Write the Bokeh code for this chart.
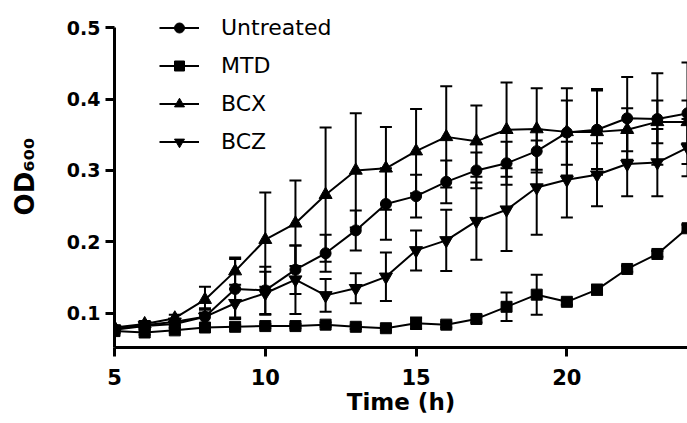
from bokeh.plotting import figure
from bokeh.models import (Range1d, FixedTicker, Whisker, TeeHead, ColumnDataSource,
                          Legend, LegendItem)
from bokeh.embed import file_html
from bokeh.resources import INLINE

# ---- data ----
time_h = [5, 6, 7, 8, 9, 10, 11, 12, 13, 14, 15, 16, 17, 18, 19, 20, 21, 22, 23, 24]

untreated = [0.077, 0.082, 0.085, 0.095, 0.134, 0.132, 0.161, 0.184, 0.216, 0.253,
             0.264, 0.284, 0.300, 0.310, 0.327, 0.353, 0.357, 0.373, 0.372, 0.380]
untreated_err = [0.004, 0.004, 0.005, 0.012, 0.042, 0.033, 0.034, 0.026, 0.028, 0.050,
                 0.030, 0.030, 0.025, 0.030, 0.030, 0.045, 0.055, 0.058, 0.064, 0.071]

mtd = [0.075, 0.073, 0.076, 0.080, 0.081, 0.082, 0.082, 0.084, 0.081, 0.079,
       0.086, 0.084, 0.092, 0.109, 0.126, 0.116, 0.133, 0.162, 0.183, 0.219]
mtd_err = [0.003, 0.003, 0.003, 0.003, 0.003, 0.003, 0.003, 0.003, 0.003, 0.003,
           0.008, 0.004, 0.005, 0.020, 0.028, 0.004, 0.007, 0.004, 0.004, 0.005]

bcx = [0.080, 0.085, 0.093, 0.119, 0.159, 0.203, 0.226, 0.266, 0.300, 0.303,
       0.327, 0.347, 0.341, 0.357, 0.358, 0.354, 0.354, 0.357, 0.368, 0.368]
bcx_err = [0.003, 0.004, 0.005, 0.018, 0.019, 0.066, 0.060, 0.094, 0.080, 0.058,
           0.059, 0.071, 0.050, 0.066, 0.057, 0.061, 0.060, 0.030, 0.030, 0.030]

bcz = [0.078, 0.083, 0.088, 0.095, 0.114, 0.128, 0.147, 0.125, 0.135, 0.151,
       0.188, 0.202, 0.229, 0.245, 0.276, 0.287, 0.294, 0.309, 0.311, 0.332]
bcz_err = [0.003, 0.003, 0.004, 0.010, 0.020, 0.030, 0.048, 0.023, 0.021, 0.034,
           0.028, 0.043, 0.054, 0.058, 0.066, 0.053, 0.044, 0.045, 0.047, 0.040]

series_names = ["Untreated", "MTD", "BCX", "BCZ"]
x_ticks = [5, 10, 15, 20]
y_ticks = [0.1, 0.2, 0.3, 0.4, 0.5]

series = [
    (series_names[0], untreated, untreated_err, "circle", 11),
    (series_names[1], mtd, mtd_err, "square", 11),
    (series_names[2], bcx, bcx_err, "triangle", 13),
    (series_names[3], bcz, bcz_err, "inverted_triangle", 13),
]

# frame top is placed a little above 0.5 so the legend is not clipped
p = figure(width=687, height=423, output_backend="svg", toolbar_location=None,
           x_range=Range1d(5, 24), y_range=Range1d(0.052, 0.531),
           min_border_left=114, min_border_right=0, min_border_top=5,
           min_border_bottom=76)
p.outline_line_color = None
p.grid.visible = False
p.background_fill_color = "white"
p.border_fill_color = "white"

items = []
for name, vals, errs, marker, size in series:
    src = ColumnDataSource(dict(
        x=time_h, y=vals,
        lo=[v - e for v, e in zip(vals, errs)],
        hi=[v + e for v, e in zip(vals, errs)],
    ))
    w = Whisker(base="x", lower="lo", upper="hi", source=src,
                line_color="black", line_width=2,
                lower_head=TeeHead(size=12, line_width=2, line_color="black"),
                upper_head=TeeHead(size=12, line_width=2, line_color="black"))
    p.add_layout(w)
    lr = p.line("x", "y", source=src, line_color="black", line_width=2)
    sr = p.scatter("x", "y", source=src, marker=marker, size=size,
                   fill_color="black", line_color="black")
    items.append(LegendItem(label=name, renderers=[lr, sr]))

legend = Legend(items=items, location=(45, 193),
                glyph_width=40, glyph_height=25, label_height=25, spacing=13,
                label_standoff=22, padding=0, margin=0,
                border_line_color=None, background_fill_alpha=0,
                label_text_font="DejaVu Sans", label_text_font_size="22px",
                label_text_color="black")
p.add_layout(legend)

# x axis
xa = p.xaxis[0]
xa.ticker = FixedTicker(ticks=x_ticks)
xa.axis_label = "Time (h)"
# y axis
ya = p.yaxis[0]
ya.ticker = FixedTicker(ticks=y_ticks)
ya.bounds = (0.052, 0.5)
ya.axis_label = "OD\u2086\u2080\u2080"

for ax in (xa, ya):
    ax.axis_line_width = 3
    ax.axis_line_color = "black"
    ax.major_tick_line_width = 3
    ax.major_tick_line_color = "black"
    ax.major_tick_out = 9
    ax.major_tick_in = 0
    ax.minor_tick_line_color = None
    ax.major_label_text_font = "DejaVu Sans"
    ax.major_label_text_font_style = "bold"
    ax.major_label_text_color = "black"
    ax.axis_label_text_font = "DejaVu Sans"
    ax.axis_label_text_font_style = "bold"
    ax.axis_label_text_color = "black"

xa.major_label_text_font_size = "21px"
xa.major_label_standoff = 12
xa.axis_label_text_font_size = "23px"
xa.axis_label_standoff = 1
ya.major_label_text_font_size = "19px"
ya.major_label_standoff = 5
ya.axis_label_text_font_size = "26px"
ya.axis_label_standoff = 24

open("out.html", "w").write(file_html(p, INLINE))
